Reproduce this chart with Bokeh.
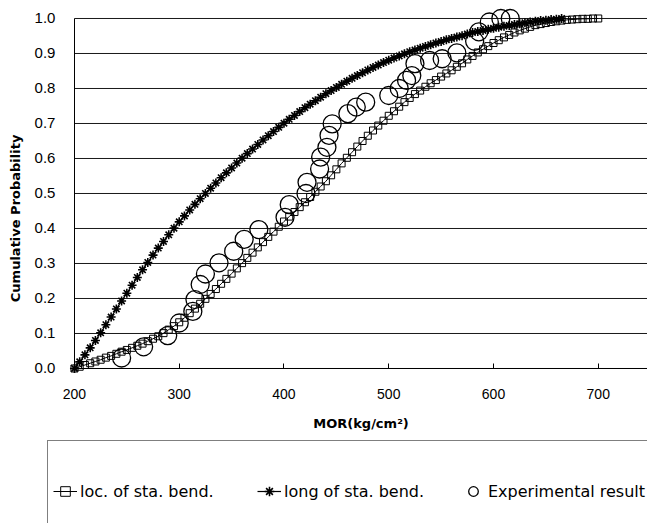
from bokeh.plotting import figure
from bokeh.models import Range1d, FixedTicker, Legend, LegendItem
from bokeh.embed import file_html
from bokeh.resources import INLINE

# ---------------- data ----------------
loc_x = [200, 205, 210, 215, 220, 225, 230, 235, 240, 245,
         250, 255, 260, 265, 270, 275, 280, 285, 290, 295,
         300, 305, 310, 315, 320, 325, 330, 335, 340, 345,
         350, 355, 360, 365, 370, 375, 380, 385, 390, 395,
         400, 405, 410, 415, 420, 425, 430, 435, 440, 445,
         450, 455, 460, 465, 470, 475, 480, 485, 490, 495,
         500, 505, 510, 515, 520, 525, 530, 535, 540, 545,
         550, 555, 560, 565, 570, 575, 580, 585, 590, 595,
         600, 605, 610, 615, 620, 625, 630, 635, 640, 645,
         650, 655, 660, 665, 670, 675, 680, 685, 690, 695,
         700]
loc_y = [0.000, 0.005, 0.010, 0.015, 0.020, 0.025, 0.031, 0.036, 0.042, 0.048,
         0.053, 0.059, 0.065, 0.071, 0.078, 0.085, 0.092, 0.101, 0.111, 0.121,
         0.132, 0.145, 0.158, 0.171, 0.185, 0.199, 0.213, 0.227, 0.242, 0.256,
         0.271, 0.286, 0.301, 0.316, 0.331, 0.346, 0.361, 0.376, 0.391, 0.405,
         0.420, 0.434, 0.447, 0.461, 0.475, 0.490, 0.505, 0.520, 0.535, 0.552,
         0.569, 0.586, 0.602, 0.618, 0.634, 0.650, 0.665, 0.680, 0.694, 0.708,
         0.722, 0.735, 0.748, 0.761, 0.773, 0.784, 0.794, 0.805, 0.815, 0.824,
         0.834, 0.843, 0.852, 0.862, 0.872, 0.883, 0.893, 0.903, 0.912, 0.921,
         0.930, 0.938, 0.946, 0.953, 0.960, 0.966, 0.971, 0.976, 0.981, 0.984,
         0.987, 0.990, 0.992, 0.994, 0.996, 0.997, 0.998, 0.999, 0.999, 1.000,
         1.000]

long_x = [200, 205, 210, 215, 220, 225, 230, 235, 240, 245,
          250, 255, 260, 265, 270, 275, 280, 285, 290, 295,
          300, 305, 310, 315, 320, 325, 330, 335, 340, 345,
          350, 355, 360, 365, 370, 375, 380, 385, 390, 395,
          400, 405, 410, 415, 420, 425, 430, 435, 440, 445,
          450, 455, 460, 465, 470, 475, 480, 485, 490, 495,
          500, 505, 510, 515, 520, 525, 530, 535, 540, 545,
          550, 555, 560, 565, 570, 575, 580, 585, 590, 595,
          600, 605, 610, 615, 620, 625, 630, 635, 640, 645,
          650, 655, 660, 665]
long_y = [0.000, 0.019, 0.039, 0.059, 0.080, 0.102, 0.125, 0.147, 0.170, 0.193,
          0.215, 0.238, 0.260, 0.282, 0.303, 0.324, 0.344, 0.363, 0.382, 0.401,
          0.419, 0.436, 0.453, 0.469, 0.485, 0.500, 0.515, 0.530, 0.545, 0.559,
          0.573, 0.587, 0.601, 0.614, 0.627, 0.640, 0.653, 0.665, 0.677, 0.689,
          0.701, 0.712, 0.723, 0.734, 0.745, 0.755, 0.765, 0.775, 0.785, 0.794,
          0.803, 0.812, 0.821, 0.829, 0.837, 0.845, 0.853, 0.860, 0.867, 0.874,
          0.881, 0.887, 0.893, 0.899, 0.905, 0.910, 0.915, 0.920, 0.925, 0.930,
          0.934, 0.939, 0.943, 0.947, 0.951, 0.956, 0.960, 0.963, 0.966, 0.969,
          0.972, 0.975, 0.978, 0.980, 0.983, 0.985, 0.988, 0.990, 0.992, 0.994,
          0.995, 0.997, 0.998, 1.000]

exp_x = [245, 266, 289, 300, 313, 315, 320, 325, 338, 352,
         362, 376, 401, 405, 421, 422, 434, 435, 441, 443,
         446, 461, 469, 478, 500, 510, 517, 522, 525, 539,
         551, 565, 582, 586, 596, 607, 616]
exp_y = [0.030, 0.062, 0.094, 0.130, 0.163, 0.197, 0.240, 0.270, 0.302, 0.335,
         0.369, 0.397, 0.432, 0.468, 0.500, 0.532, 0.570, 0.604, 0.632, 0.666,
         0.699, 0.728, 0.747, 0.761, 0.780, 0.800, 0.823, 0.837, 0.871, 0.880,
         0.885, 0.902, 0.935, 0.962, 0.990, 1.000, 1.000]

x_ticks = [200, 300, 400, 500, 600, 700]
x_tick_labels = ["200", "300", "400", "500", "600", "700"]
y_ticks = [0.0, 0.1, 0.2, 0.3, 0.4, 0.5, 0.6, 0.7, 0.8, 0.9, 1.0]
y_tick_labels = ["0.0", "0.1", "0.2", "0.3", "0.4", "0.5", "0.6", "0.7", "0.8", "0.9", "1.0"]
series_names = ["loc. of sta. bend.", "long of sta. bend.", "Experimental result"]
x_title = "MOR(kg/cm\u00b2)"
y_title = "Cumulative Probability"

X_MIN, X_MAX = 200, 747
Y_MIN, Y_MAX = 0.0, 1.0

# The frame fills the whole canvas; axes are pinned at x=200 and y=0 so that the
# legend box below the plot can be drawn inside the frame.
p = figure(width=647, height=523, x_range=Range1d(129.4, X_MAX), y_range=Range1d(-0.4429, 1.0514),
           output_backend="svg", toolbar_location=None,
           min_border_left=0, min_border_right=0, min_border_top=0, min_border_bottom=0)
p.outline_line_color = None
p.background_fill_color = "white"
p.border_fill_color = "white"
p.xgrid.visible = False
p.ygrid.visible = False

# horizontal grid lines, only across the plotting area
p.segment(x0=[X_MIN] * len(y_ticks), y0=y_ticks, x1=[X_MAX] * len(y_ticks), y1=y_ticks,
          line_color="#1a1a1a", line_width=1)

xa = p.xaxis[0]
xa.fixed_location = Y_MIN
xa.bounds = (X_MIN, X_MAX)
xa.ticker = FixedTicker(ticks=x_ticks)
xa.major_label_overrides = dict(zip(x_ticks, x_tick_labels))
xa.major_tick_in = 5
xa.major_tick_out = 0
xa.minor_tick_in = 0
xa.minor_tick_out = 0
xa.major_label_standoff = 21
xa.major_label_text_font = "Liberation Sans"
xa.major_label_text_font_size = "14px"
xa.major_label_text_color = "black"
xa.axis_line_color = "black"
xa.major_tick_line_color = "black"
xa.axis_label = x_title
xa.axis_label_text_font = "DejaVu Sans"
xa.axis_label_text_font_style = "bold"
xa.axis_label_text_font_size = "13px"
xa.axis_label_text_color = "black"
xa.axis_label_standoff = 13

ya = p.yaxis[0]
ya.fixed_location = X_MIN
ya.bounds = (Y_MIN, Y_MAX)
ya.ticker = FixedTicker(ticks=y_ticks)
ya.major_label_overrides = dict(zip(y_ticks, y_tick_labels))
ya.major_tick_in = 0
ya.major_tick_out = 0
ya.minor_tick_in = 0
ya.minor_tick_out = 0
ya.major_label_standoff = 19
ya.major_label_text_font = "Liberation Sans"
ya.major_label_text_font_size = "15px"
ya.major_label_text_color = "black"
ya.axis_line_color = "black"
ya.axis_label = y_title + "\u00a0" * 11
ya.axis_label_text_font = "DejaVu Sans"
ya.axis_label_text_font_style = "bold"
ya.axis_label_text_font_size = "13px"
ya.axis_label_text_color = "black"
ya.axis_label_standoff = 9

l1 = p.line(loc_x, loc_y, line_color="black", line_width=1)
s1 = p.scatter(loc_x, loc_y, marker="square", size=7, line_color="black",
               fill_color=None, line_width=1)
l2 = p.line(long_x, long_y, line_color="black", line_width=1.2)
s2 = p.scatter(long_x, long_y, marker="asterisk", size=9, line_color="black", line_width=1.6)
s3 = p.scatter(exp_x, exp_y, marker="circle", size=18, line_color="black",
               fill_color=None, line_width=1.3)

# legend box under the plot, running past the right and bottom edges
legend = Legend(items=[LegendItem(label=series_names[0], renderers=[l1, s1]),
                       LegendItem(label=series_names[1], renderers=[l2, s2]),
                       LegendItem(label=series_names[2], renderers=[s3])],
                orientation="horizontal", location=(47, -19),
                border_line_color="black", border_line_width=1,
                background_fill_color="white", background_fill_alpha=1,
                padding=5, spacing=17, glyph_width=24, glyph_height=90,
                label_height=90, label_width=160, label_standoff=3, margin=0,
                label_text_font="DejaVu Sans", label_text_font_size="16px",
                label_text_color="black")
p.add_layout(legend)

open("out.html", "w").write(file_html(p, INLINE))
